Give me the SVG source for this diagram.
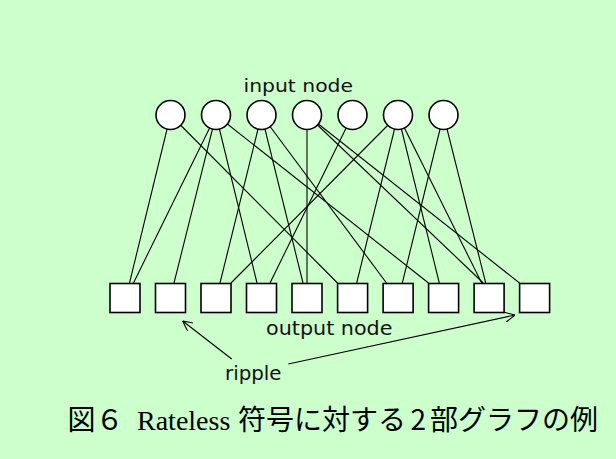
<svg xmlns="http://www.w3.org/2000/svg" width="616" height="459" viewBox="0 0 616 459">
<style>
.in{fill:#fff;stroke:#000;stroke-width:1.6}
.out{fill:#fff;stroke:#000;stroke-width:1.6}
.e{stroke:#000;stroke-width:1.1;fill:none}
.lbl{font-family:"DejaVu Sans",sans-serif;font-size:18px;fill:#111}
.cap{font-family:"Noto Sans CJK JP",sans-serif;font-size:28px;fill:#000}
.ser{font-family:"Liberation Serif",serif;font-size:28px}
</style>
<defs>
<marker id="arr" viewBox="0 0 10 10" refX="10" refY="5" markerWidth="10" markerHeight="10" markerUnits="userSpaceOnUse" orient="auto">
<path d="M0,0 L10,5 L0,10" fill="none" stroke="#000" stroke-width="1.1"/>
</marker>
</defs>
<rect width="616" height="459" fill="#ccffcc"/>
<g id="edges">
<line class="e" x1="170.5" y1="115" x2="129.5" y2="283"/>
<line class="e" x1="170.5" y1="115" x2="337.5" y2="283"/>
<line class="e" x1="216" y1="115" x2="133.5" y2="283"/>
<line class="e" x1="216" y1="115" x2="174" y2="283"/>
<line class="e" x1="216" y1="115" x2="257" y2="283"/>
<line class="e" x1="216" y1="115" x2="428.5" y2="283"/>
<line class="e" x1="261.5" y1="115" x2="220" y2="283"/>
<line class="e" x1="261.5" y1="115" x2="303" y2="283"/>
<line class="e" x1="261.5" y1="115" x2="386.5" y2="283"/>
<line class="e" x1="307" y1="115" x2="307" y2="283"/>
<line class="e" x1="307" y1="115" x2="483.3" y2="283"/>
<line class="e" x1="307" y1="115" x2="519.5" y2="283"/>
<line class="e" x1="352.5" y1="115" x2="270" y2="283"/>
<line class="e" x1="398" y1="115" x2="231" y2="283"/>
<line class="e" x1="398" y1="115" x2="356.7" y2="283"/>
<line class="e" x1="398" y1="115" x2="439.3" y2="283"/>
<line class="e" x1="398" y1="115" x2="481.7" y2="283"/>
<line class="e" x1="443.5" y1="115" x2="402.3" y2="283"/>
<line class="e" x1="443.5" y1="115" x2="485.7" y2="283"/>
</g>
<g id="input-nodes">
<circle id="in1" class="in" cx="170.5" cy="115" r="14.5"/>
<circle id="in2" class="in" cx="216" cy="115" r="14.5"/>
<circle id="in3" class="in" cx="261.5" cy="115" r="14.5"/>
<circle id="in4" class="in" cx="307" cy="115" r="14.5"/>
<circle id="in5" class="in" cx="352.5" cy="115" r="14.5"/>
<circle id="in6" class="in" cx="398" cy="115" r="14.5"/>
<circle id="in7" class="in" cx="443.5" cy="115" r="14.5"/>
</g>
<g id="output-nodes">
<rect id="out1" class="out" x="110" y="283.5" width="30" height="29"/>
<rect id="out2" class="out" x="155.5" y="283.5" width="30" height="29"/>
<rect id="out3" class="out" x="201" y="283.5" width="30" height="29"/>
<rect id="out4" class="out" x="246.5" y="283.5" width="30" height="29"/>
<rect id="out5" class="out" x="292" y="283.5" width="30" height="29"/>
<rect id="out6" class="out" x="337.6" y="283.5" width="30" height="29"/>
<rect id="out7" class="out" x="383.1" y="283.5" width="30" height="29"/>
<rect id="out8" class="out" x="428.6" y="283.5" width="30" height="29"/>
<rect id="out9" class="out" x="474.1" y="283.5" width="30" height="29"/>
<rect id="out10" class="out" x="519.6" y="283.5" width="30" height="29"/>
</g>
<g id="labels">
<text class="lbl" x="243.5" y="92.3" textLength="109.5" lengthAdjust="spacingAndGlyphs">input node</text>
<text class="lbl" x="266" y="335" style="font-size:19.5px" textLength="126.5" lengthAdjust="spacingAndGlyphs">output node</text>
<text class="lbl" x="225" y="380" style="font-size:19.5px" textLength="56.5" lengthAdjust="spacingAndGlyphs">ripple</text>
</g>
<g id="ripple-arrows">
<line class="e" x1="231.7" y1="359" x2="182.7" y2="321" marker-end="url(#arr)"/>
<line class="e" x1="288.3" y1="364" x2="515" y2="315" marker-end="url(#arr)"/>
</g>
<text class="cap" y="430"><tspan x="67.5">図６</tspan><tspan class="ser" x="137">Rateless</tspan><tspan x="238">符号に対する</tspan><tspan x="410.5">2</tspan><tspan x="430">部グラフの例</tspan></text>
</svg>
